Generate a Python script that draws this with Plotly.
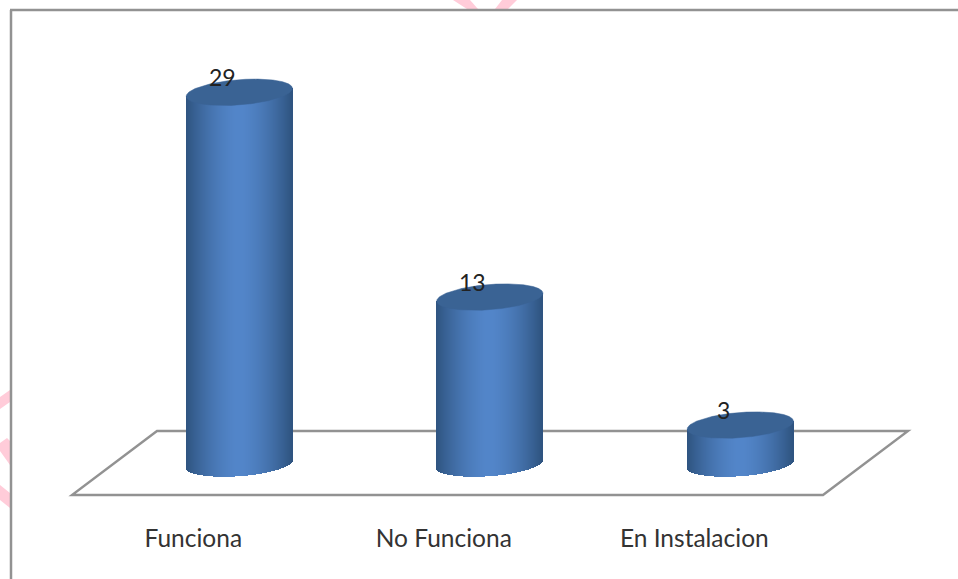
import numpy as np
import plotly.graph_objects as go

categories = ["Funciona", "No Funciona", "En Instalacion"]
values = [29, 13, 3]

W, H, BOTTOM = 958, 579, 58
PLOT_H = H - BOTTOM
PX_X, PX_Y = 250.5, 12.8      # pixels per axis unit
X0_PX, Y0_PX = 239.3, 463.5   # where x=0 and y=0 fall
A, B, TILT = 53.3, 12.6, np.radians(4.5)
DARK, LIGHT = np.array([47, 84, 128]), np.array([83, 134, 202])
CAP = "#3a6394"
GREY = "#929292"
PINK = "#ffccd9"


def py(p):
    return (PLOT_H - p) / PLOT_H


def px(p):
    return p / W


t = np.linspace(0, 2 * np.pi, 1441)
ex = A * np.cos(t) * np.cos(TILT) - B * np.sin(t) * np.sin(TILT)
ey = A * np.cos(t) * np.sin(TILT) + B * np.sin(t) * np.cos(TILT)

offsets = np.arange(-53, 53) + 0.5
lower = np.array([ey[np.abs(ex - d) < 0.6].min() for d in offsets])
upper = offsets * np.tan(TILT)
profile = 1 - (np.abs(offsets) / 53) ** 1.6
colors = [
    "rgb(%d,%d,%d)" % tuple(DARK + (LIGHT - DARK) * p) for p in profile
]

fig = go.Figure()
for i, v in enumerate(values):
    fig.add_bar(
        x=i + offsets / PX_X,
        base=lower / PX_Y,
        y=v + (upper - lower) / PX_Y,
        width=[1.0 / PX_X] * len(offsets),
        marker=dict(color=colors, line=dict(width=0)),
        hoverinfo="skip",
        showlegend=False,
    )

cap_x, cap_y = [], []
for i, v in enumerate(values):
    cap_x += list(i + ex / PX_X) + [None]
    cap_y += list(v + ey / PX_Y) + [None]
fig.add_scatter(
    x=cap_x, y=cap_y, mode="lines", fill="toself", fillcolor=CAP,
    line=dict(color=CAP, width=0.5), hoverinfo="skip", showlegend=False,
)

for i, v in enumerate(values):
    fig.add_annotation(
        x=i, y=v, text=str(v), showarrow=False, xshift=-17, yshift=15,
        font=dict(family="Lato", size=23, color="#222222"),
    )


def poly(points, **kw):
    d = "M" + " L".join(f"{px(a):.5f},{py(b):.5f}" for a, b in points) + " Z"
    return dict(type="path", path=d, xref="paper", yref="paper", layer="below", **kw)


shapes = [
    poly([(157, 431), (908, 431), (823, 495), (72, 495)],
         line=dict(color=GREY, width=2.4), fillcolor="white"),
]
for piece in [
    [(453, 0), (470, 0), (478, 9), (467, 9)],
    [(502, 0), (517, 0), (508, 9), (495, 9)],
    [(0, 397), (10, 390), (10, 402), (0, 409)],
    [(0, 443), (7, 438), (10, 441), (10, 465), (0, 451)],
    [(0, 485), (10, 493), (10, 508), (0, 500)],
]:
    shapes.append(poly(piece, line=dict(width=0), fillcolor=PINK))
shapes += [
    dict(type="line", xref="paper", yref="paper", layer="below",
         x0=px(10), x1=px(958), y0=py(10), y1=py(10), line=dict(color=GREY, width=2.5)),
    dict(type="line", xref="paper", yref="paper", layer="below",
         x0=px(11), x1=px(11), y0=py(10), y1=py(579), line=dict(color=GREY, width=2.5)),
]

fig.update_layout(
    width=W, height=H,
    margin=dict(l=0, r=0, t=0, b=BOTTOM, pad=0),
    paper_bgcolor="white", plot_bgcolor="rgba(0,0,0,0)",
    barmode="overlay", bargap=0, showlegend=False,
    shapes=shapes,
    xaxis=dict(
        range=[-X0_PX / PX_X, (W - X0_PX) / PX_X],
        tickmode="array", tickvals=list(range(len(categories))), ticktext=categories,
        ticklabelshift=-46, ticks="", showgrid=False, zeroline=False, showline=False,
        tickfont=dict(family="Lato", size=24.5, color="#333333"),
    ),
    yaxis=dict(
        range=[(Y0_PX - PLOT_H) / PX_Y, Y0_PX / PX_Y],
        visible=False, showgrid=False, zeroline=False,
    ),
)

fig.write_html(
    "out.html",
    config={"displayModeBar": False},
    post_script="document.body.style.margin='0';document.documentElement.style.overflow='hidden';",
)
